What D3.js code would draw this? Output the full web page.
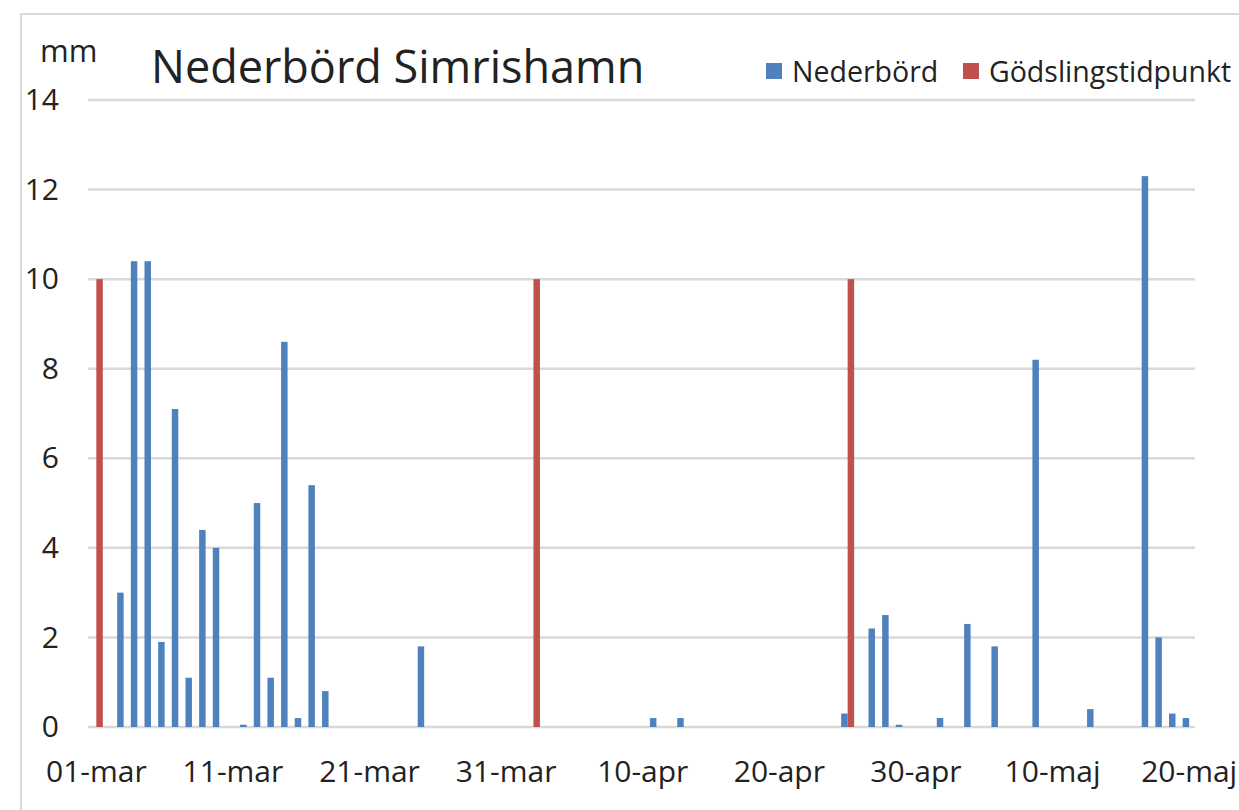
<!DOCTYPE html>
<html>
<head>
    <meta charset="utf-8" />
    <title>Nederbörd Simrishamn</title>
    <script src="https://cdn.jsdelivr.net/npm/d3@7/dist/d3.min.js" charset="utf-8"></script>
    <style>
        body { margin: 0; background: #fff; }
        text { font-family: "Open Sans", "Noto Sans", sans-serif; fill: #222; }
    </style>
</head>
<body>
</body>
<script charset="utf-8">

    // data
    var firstDay = '2015-03-01';
    var lastDay = '2015-05-20';
    var rainDates = ['2015-03-03','2015-03-04','2015-03-05','2015-03-06','2015-03-07','2015-03-08','2015-03-09','2015-03-10',
                     '2015-03-12','2015-03-13','2015-03-14','2015-03-15','2015-03-16','2015-03-17','2015-03-18','2015-03-25',
                     '2015-04-11','2015-04-13','2015-04-25','2015-04-27','2015-04-28','2015-04-29',
                     '2015-05-02','2015-05-04','2015-05-06','2015-05-09','2015-05-13','2015-05-17','2015-05-18','2015-05-19','2015-05-20'];
    var rainMm = [3.0, 10.4, 10.4, 1.9, 7.1, 1.1, 4.4, 4.0,
                  0.05, 5.0, 1.1, 8.6, 0.2, 5.4, 0.8, 1.8,
                  0.2, 0.2, 0.3, 2.2, 2.5, 0.05,
                  0.2, 2.3, 1.8, 8.2, 0.4, 12.3, 2.0, 0.3, 0.2];
    var fertDates = ['2015-03-01', '2015-04-02', '2015-04-25'];
    var fertMm = [10, 10, 10];
    var seriesNames = ['Nederbörd', 'Gödslingstidpunkt'];
    var seriesColors = ['#4f81bd', '#c0504d'];
    var yTicks = [0, 2, 4, 6, 8, 10, 12, 14];
    var xTickLabels = ['01-mar','11-mar','21-mar','31-mar','10-apr','20-apr','30-apr','10-maj','20-maj'];

    var width = 1239, height = 810;
    var plot = { left: 89.5, right: 1196, top: 100, bottom: 727 };

    var svg = d3.select('body').append('svg').attr('width', width).attr('height', height);

    // chart area border
    svg.append('rect').attr('x', 21).attr('y', 14).attr('width', width).attr('height', height)
        .attr('fill', '#fff').attr('stroke', '#d9d9d9').attr('stroke-width', 2);

    var months = ['jan','feb','mar','apr','maj','jun','jul','aug','sep','okt','nov','dec'];
    var parse = d3.timeParse('%Y-%m-%d');
    function label(d) { return d3.timeFormat('%d')(d) + '-' + months[d.getMonth()]; }

    var days = d3.timeDay.range(parse(firstDay), d3.timeDay.offset(parse(lastDay), 1)).map(label);

    var xScale = d3.scaleBand().domain(days).range([plot.left, plot.right]).paddingInner(0.05).paddingOuter(0.025);
    var xSub = d3.scaleBand().domain(seriesNames).range([0, xScale.bandwidth()]);
    var yScale = d3.scaleLinear().domain([0, 14]).range([plot.bottom, plot.top]);

    // gridlines
    svg.append('g').selectAll('line').data(yTicks).enter().append('line')
        .attr('x1', 88).attr('x2', 1195)
        .attr('y1', function(d){ return yScale(d); }).attr('y2', function(d){ return yScale(d); })
        .attr('stroke', '#d9d9d9').attr('stroke-width', 2.5);

    // axes (text only)
    var yAxis = d3.axisLeft(yScale).tickValues(yTicks).tickSize(0).tickPadding(29);
    var gy = svg.append('g').attr('transform', 'translate(88,0)').call(yAxis);
    gy.select('.domain').remove();
    gy.selectAll('text').style('font-size', '30px').attr('fill', '#1a1a1a');

    var xAxis = d3.axisBottom(xScale).tickValues(xTickLabels).tickSize(0).tickPadding(34);
    var gx = svg.append('g').attr('transform', 'translate(0,' + plot.bottom + ')').call(xAxis);
    gx.select('.domain').remove();
    gx.selectAll('text').style('font-size', '30px').attr('fill', '#1a1a1a');
    svg.selectAll('.tick text').attr('font-family', null).attr('font-size', null);

    // bars
    var rain = rainDates.map(function(d, i){ return { day: label(parse(d)), v: rainMm[i] }; });
    var fert = fertDates.map(function(d, i){ return { day: label(parse(d)), v: fertMm[i] }; });

    svg.append('g').selectAll('rect').data(rain).enter().append('rect')
        .attr('x', function(d){ return xScale(d.day) + xSub(seriesNames[0]); })
        .attr('width', xSub.bandwidth())
        .attr('y', function(d){ return yScale(d.v); })
        .attr('height', function(d){ return yScale(0) - yScale(d.v); })
        .attr('fill', seriesColors[0]);

    svg.append('g').selectAll('rect').data(fert).enter().append('rect')
        .attr('x', function(d){ return xScale(d.day) + xSub(seriesNames[1]); })
        .attr('width', xSub.bandwidth())
        .attr('y', function(d){ return yScale(d.v); })
        .attr('height', function(d){ return yScale(0) - yScale(d.v); })
        .attr('fill', seriesColors[1]);

    // title and unit
    svg.append('text').attr('x', 151).attr('y', 83).style('font-size', '45px').attr('fill', '#111').text('Nederbörd Simrishamn');
    svg.append('text').attr('x', 40).attr('y', 62).style('font-size', '31px').attr('fill', '#111').text('mm');

    // legend
    var legendX = [766, 963];
    var lg = svg.selectAll('.legend').data(seriesNames).enter().append('g').attr('class', 'legend')
        .attr('transform', function(d, i){ return 'translate(' + legendX[i] + ',63)'; });
    lg.append('rect').attr('width', 16).attr('height', 16).attr('fill', function(d, i){ return seriesColors[i]; });
    lg.append('text').attr('x', 26).attr('y', 19).style('font-size', '28.5px').attr('fill', '#111').text(function(d){ return d; });

</script>
</html>
